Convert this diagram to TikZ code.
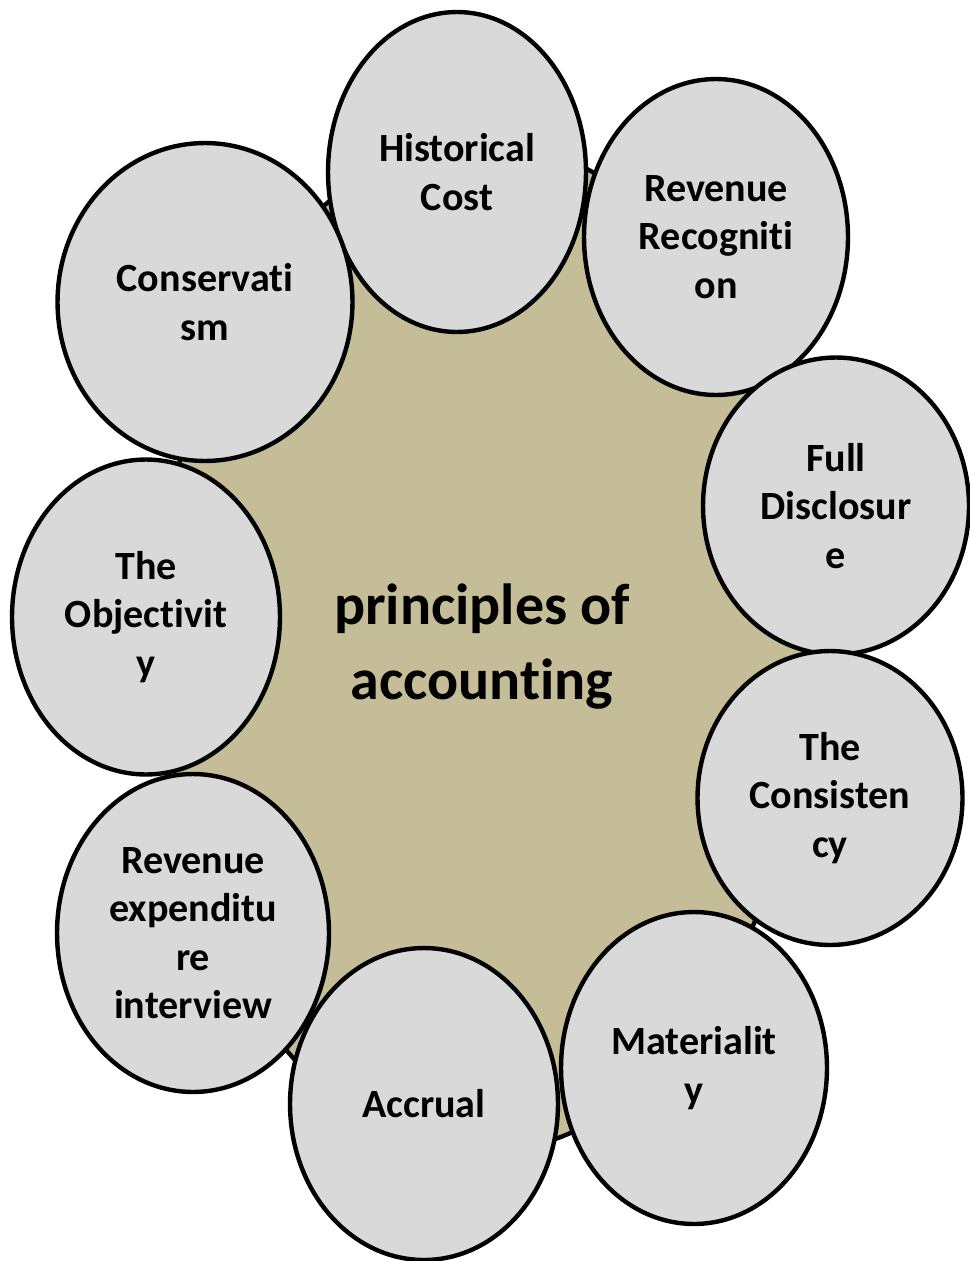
\documentclass[tikz,border=0pt]{standalone}
\usepackage{fontspec}
\setmainfont{Carlito}[RawFeature=-liga]
\usetikzlibrary{shapes.geometric}
\definecolor{khaki}{HTML}{C4BD97}
\definecolor{bubblegray}{HTML}{D9D9D9}

\begin{document}
\begin{tikzpicture}[
    x=0.02cm, y=-0.02cm,
    outline/.style={draw, line width=2.5pt},
    bubble/.style={ellipse, outline, fill=bubblegray, inner sep=0pt, align=center,
      font=\fontsize{22.8}{27.6}\selectfont\bfseries},
  ]
  \useasboundingbox (0,0) rectangle (970,1261);
  % central shape
  \node[ellipse, outline, fill=khaki, minimum width=13cm, minimum height=20.2cm,
    align=center, font=\fontsize{33}{42.7}\selectfont\bfseries] (core) at (482,647)
    {principles of\\accounting};
  % principles around it
  \node[bubble, minimum width=5.16cm, minimum height=6.4cm] (hist) at (457,172) {Historical\\Cost};
  \node[bubble, minimum width=5.28cm, minimum height=6.32cm] (revrec) at (716,237) {Revenue\\Recogniti\\on};
  \node[bubble, minimum width=5.32cm, minimum height=5.94cm] (fulldisc) at (836,506) {Full\\Disclosur\\e};
  \node[bubble, minimum width=5.3cm, minimum height=5.88cm] (consist) at (830,798) {The\\Consisten\\cy};
  \node[bubble, minimum width=5.32cm, minimum height=6.24cm] (mater) at (694,1068) {Materialit\\y};
  \node[bubble, minimum width=5.36cm, minimum height=6.24cm] (accrual) at (424,1104) {Accrual};
  \node[bubble, minimum width=5.44cm, minimum height=6.36cm] (revexp) at (193,933) {Revenue\\expenditu\\re\\interview};
  \node[bubble, minimum width=5.36cm, minimum height=6.3cm] (object) at (146,617) {The\\Objectivit\\y};
  \node[bubble, minimum width=5.9cm, minimum height=6.36cm] (conserv) at (205,302) {Conservati\\sm};
\end{tikzpicture}
\end{document}
